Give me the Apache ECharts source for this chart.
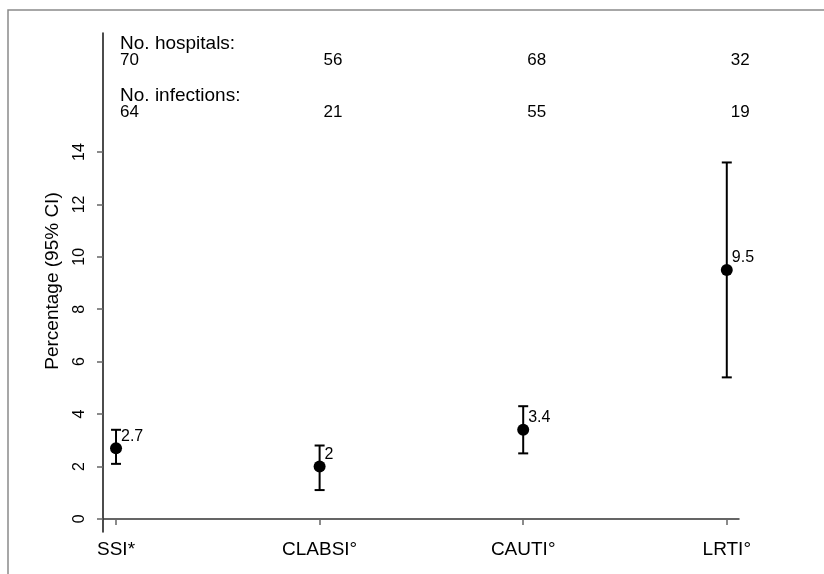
<!DOCTYPE html>
<html>
<head>
<meta charset="utf-8">
<script src="https://cdn.jsdelivr.net/npm/echarts@6/dist/echarts.min.js"></script>
<style>html,body{margin:0;padding:0;background:#fff}#c{width:824px;height:574px}</style>
</head>
<body>
<div id="c"></div>
<script>
const categories = ['SSI*', 'CLABSI°', 'CAUTI°', 'LRTI°'];
const estimate = [2.7, 2.0, 3.4, 9.5];
const ciLow = [2.1, 1.1, 2.5, 5.4];
const ciHigh = [3.4, 2.8, 4.3, 13.6];
const hospitals = [70, 56, 68, 32];
const infections = [64, 21, 55, 19];
const yTicks = [0, 2, 4, 6, 8, 10, 12, 14];
const hospitalsHeader = 'No. hospitals:';
const infectionsHeader = 'No. infections:';
const yTitle = 'Percentage (95% CI)';

// vertical placement of the count rows (in axis units)
const rowHospHeader = 18.12, rowHosp = 17.5, rowInfHeader = 16.14, rowInf = 15.5;

const FONT = 'Liberation Sans, Arial, Helvetica, sans-serif';
const xPos = categories.map((c, i) => i + 1);

const chart = echarts.init(document.getElementById('c'), null, {renderer: 'canvas'});

function textSeries(points, fmt, size) {
  return {
    type: 'scatter', symbolSize: 0, silent: true,
    itemStyle: {opacity: 1},
    data: points,
    label: {show: true, position: 'right', distance: 4, formatter: fmt,
      color: '#000', fontFamily: FONT, fontSize: size}
  };
}

const option = {
  animation: false,
  backgroundColor: '#fff',
  grid: {left: 103, right: 85, top: 33, bottom: 42, containLabel: false},
  xAxis: {
    type: 'value', min: 0.936, max: 4.06,
    splitLine: {show: false},
    axisLine: {show: true, lineStyle: {color: '#333', width: 1.5}},
    axisTick: {show: true, customValues: xPos, length: 6, lineStyle: {color: '#666', width: 1.5}},
    axisLabel: {customValues: xPos, formatter: v => categories[Math.round(v) - 1] || '',
      color: '#000', fontFamily: FONT, fontSize: 19, margin: 8}
  },
  yAxis: {
    type: 'value', min: -0.5, max: 18.54,
    splitLine: {show: false},
    axisLine: {show: true, onZero: false, lineStyle: {color: '#111', width: 1.5}},
    axisTick: {show: true, customValues: yTicks, length: 6, lineStyle: {color: '#666', width: 1.5}},
    axisLabel: {customValues: yTicks, rotate: 90, color: '#000', fontFamily: FONT, fontSize: 16, margin: 15}
  },
  graphic: [
    {type: 'rect', z: -1, silent: true, shape: {x: 8, y: 10, width: 1000, height: 1000},
      style: {fill: 'none', stroke: '#8a8a8a', lineWidth: 1.5}},
    {type: 'text', x: 53, y: 281, rotation: Math.PI / 2, silent: true,
      style: {text: yTitle, font: '19px ' + FONT, fill: '#000', align: 'center', verticalAlign: 'middle'}}
  ],
  series: [
    {
      type: 'custom',
      silent: true,
      data: xPos.map((x, i) => [x, ciLow[i], ciHigh[i]]),
      renderItem: function (params, api) {
        const lo = api.coord([api.value(0), api.value(1)]);
        const hi = api.coord([api.value(0), api.value(2)]);
        const w = 5;
        const st = {stroke: '#000', lineWidth: 2, fill: 'none'};
        return {type: 'group', children: [
          {type: 'line', shape: {x1: lo[0], y1: lo[1], x2: hi[0], y2: hi[1]}, style: st},
          {type: 'line', shape: {x1: lo[0] - w, y1: lo[1], x2: lo[0] + w, y2: lo[1]}, style: st},
          {type: 'line', shape: {x1: hi[0] - w, y1: hi[1], x2: hi[0] + w, y2: hi[1]}, style: st}
        ]};
      }
    },
    {
      type: 'scatter', symbol: 'circle', symbolSize: 12,
      itemStyle: {color: '#000', opacity: 1},
      data: xPos.map((x, i) => [x, estimate[i]]),
      label: {show: true, position: 'right', distance: 0, offset: [-1, -12],
        formatter: p => String(p.value[1]), color: '#000', fontFamily: FONT, fontSize: 16}
    },
    textSeries([[1, rowHospHeader]], () => hospitalsHeader, 19),
    textSeries([[1, rowInfHeader]], () => infectionsHeader, 19),
    textSeries(xPos.map((x, i) => [x, rowHosp, hospitals[i]]), p => String(p.value[2]), 17),
    textSeries(xPos.map((x, i) => [x, rowInf, infections[i]]), p => String(p.value[2]), 17)
  ]
};
chart.setOption(option);
</script>
</body>
</html>
